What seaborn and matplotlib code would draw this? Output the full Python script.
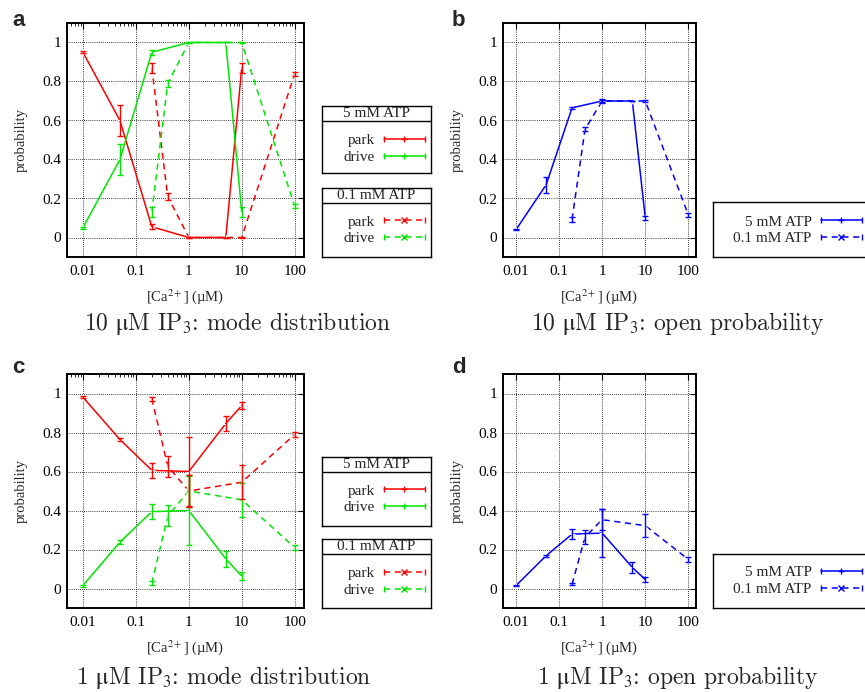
import matplotlib
matplotlib.use("Agg")
import matplotlib.pyplot as plt
from matplotlib.lines import Line2D
from matplotlib.legend_handler import HandlerTuple, HandlerLine2D
from matplotlib.ticker import LogLocator, NullFormatter
import pandas as pd
import seaborn as sns

# Ca2+ concentrations (uM) used for each ATP level
ca_5mM = [0.01, 0.05, 0.2, 1, 5, 10]
ca_01mM = [0.2, 0.4, 1, 10, 100]

# a: 10 uM IP3, mode distribution
a_park_5 = [0.95, 0.60, 0.055, 0.0, 0.0, 0.87]
a_park_5_err = [0.005, 0.08, 0.012, 0.005, 0.0, 0.025]
a_drive_5 = [0.05, 0.40, 0.95, 1.0, 1.0, 0.13]
a_drive_5_err = [0.005, 0.08, 0.012, 0.005, 0.0, 0.025]
a_park_01 = [0.87, 0.21, 0.0, 0.0, 0.84]
a_park_01_err = [0.025, 0.02, 0.005, 0.005, 0.01]
a_drive_01 = [0.13, 0.79, 1.0, 1.0, 0.16]
a_drive_01_err = [0.025, 0.02, 0.005, 0.005, 0.01]

# b: 10 uM IP3, open probability
b_open_5 = [0.04, 0.27, 0.665, 0.70, 0.70, 0.10]
b_open_5_err = [0.003, 0.04, 0.005, 0.005, 0.0, 0.012]
b_open_01 = [0.093, 0.556, 0.70, 0.70, 0.115]
b_open_01_err = [0.012, 0.01, 0.008, 0.005, 0.01]

# c: 1 uM IP3, mode distribution
c_park_5 = [0.981, 0.764, 0.606, 0.60, 0.846, 0.938]
c_park_5_err = [0.005, 0.01, 0.037, 0.175, 0.04, 0.02]
c_drive_5 = [0.015, 0.238, 0.394, 0.40, 0.152, 0.063]
c_drive_5_err = [0.005, 0.01, 0.037, 0.175, 0.04, 0.02]
c_park_01 = [0.973, 0.627, 0.50, 0.545, 0.79]
c_park_01_err = [0.01, 0.055, 0.08, 0.087, 0.015]
c_drive_01 = [0.027, 0.373, 0.50, 0.455, 0.21]
c_drive_01_err = [0.01, 0.055, 0.08, 0.087, 0.015]

# d: 1 uM IP3, open probability
d_open_5 = [0.015, 0.168, 0.279, 0.284, 0.108, 0.046]
d_open_5_err = [0.004, 0.006, 0.025, 0.125, 0.03, 0.012]
d_open_01 = [0.022, 0.264, 0.353, 0.322, 0.149]
d_open_01_err = [0.004, 0.035, 0.055, 0.06, 0.012]

ATP5 = "5 mM ATP"
ATP01 = "0.1 mM ATP"
RED, GREEN, BLUE = "#ff0000", "#00e600", "#0000ff"
mode_colors = {"park": RED, "drive": GREEN}
open_colors = {"open": BLUE}


def frame(series):
    # series: list of (mode, atp, ca, prob, err)
    rows = []
    for mode, atp, ca, prob, err in series:
        for x, y, e in zip(ca, prob, err):
            rows.append({"ca": x, "prob": y, "err": e, "mode": mode, "atp": atp})
    return pd.DataFrame(rows)


df_a = frame([("park", ATP5, ca_5mM, a_park_5, a_park_5_err),
              ("drive", ATP5, ca_5mM, a_drive_5, a_drive_5_err),
              ("park", ATP01, ca_01mM, a_park_01, a_park_01_err),
              ("drive", ATP01, ca_01mM, a_drive_01, a_drive_01_err)])
df_b = frame([("open", ATP5, ca_5mM, b_open_5, b_open_5_err),
              ("open", ATP01, ca_01mM, b_open_01, b_open_01_err)])
df_c = frame([("park", ATP5, ca_5mM, c_park_5, c_park_5_err),
              ("drive", ATP5, ca_5mM, c_drive_5, c_drive_5_err),
              ("park", ATP01, ca_01mM, c_park_01, c_park_01_err),
              ("drive", ATP01, ca_01mM, c_drive_01, c_drive_01_err)])
df_d = frame([("open", ATP5, ca_5mM, d_open_5, d_open_5_err),
              ("open", ATP01, ca_01mM, d_open_01, d_open_01_err)])

sns.set_theme(style="white")
plt.rcParams["font.family"] = ["Liberation Serif", "DejaVu Serif"]
plt.rcParams["mathtext.fontset"] = "stix"

W, H = 865, 692
fig = plt.figure(figsize=(W / 100, H / 100), dpi=100)
DASH = (4, 3)


def px_axes(x0, y0, x1, y1):
    return fig.add_axes([x0 / W, 1 - y1 / H, (x1 - x0) / W, (y1 - y0) / H])


def draw_panel(ax, df, palette):
    sns.lineplot(data=df, x="ca", y="prob", hue="mode", style="atp", palette=palette,
                 dashes={ATP5: "", ATP01: DASH}, markers={ATP5: "+", ATP01: "x"},
                 markersize=4, linewidth=1.1, estimator=None, legend=False, ax=ax)
    for (mode, atp), g in df.groupby(["mode", "atp"]):
        ax.errorbar(g["ca"], g["prob"], yerr=g["err"], fmt="none", ecolor=palette[mode],
                    elinewidth=1.0, capsize=2.5, capthick=1.0)
    ax.set_xscale("log")
    ax.set_xlim(0.005, 150)
    ax.set_ylim(-0.1, 1.1)
    ax.set_xticks([0.01, 0.1, 1, 10, 100])
    ax.set_xticklabels(["0.01", "0.1", "1", "10", "100"])
    ax.xaxis.set_minor_locator(LogLocator(base=10, subs=range(2, 10)))
    ax.xaxis.set_minor_formatter(NullFormatter())
    ax.set_yticks([0, 0.2, 0.4, 0.6, 0.8, 1.0])
    ax.set_yticklabels(["0", "0.2", "0.4", "0.6", "0.8", "1"])
    ax.grid(True, which="major", color="black", linestyle=(0, (1, 1.5)), linewidth=0.6)
    ax.tick_params(which="both", direction="in", top=True, right=True, colors="black",
                   labelsize=11)
    ax.tick_params(which="major", length=4, width=0.8)
    ax.tick_params(which="minor", length=2, width=0.6)
    ax.tick_params(axis="x", pad=6)
    ax.tick_params(axis="y", pad=4)
    for s in ax.spines.values():
        s.set_color("black")
        s.set_linewidth(1.4)
    ax.set_ylabel("probability", fontsize=10.5)
    ax.set_xlabel("[Ca$^{2+}$] (µM)", fontsize=10.5)
    w = ax.get_position().width * W
    h = ax.get_position().height * H
    ax.yaxis.set_label_coords(-46 / w, 0.5)
    ax.xaxis.set_label_coords(0.5, -40 / h)
    ax.xaxis.label.set_va("center")
    ax.yaxis.label.set_va("center")


def make_handle(color, dashed, capmap):
    line = Line2D([], [], color=color, linestyle=(0, DASH) if dashed else "-", linewidth=1.1,
                  marker="x" if dashed else "+", markersize=4)
    caps = Line2D([], [], color=color, linestyle="none", marker="|", markersize=4,
                  markeredgewidth=1.0)
    capmap[caps] = HandlerLine2D(numpoints=2, marker_pad=0.0)
    return (line, caps)


def legend_box(rect, entries, anchor, title=None, header=15):
    x0, y0, x1, y1 = rect
    lax = px_axes(x0, y0, x1, y1)
    lax.set_xticks([])
    lax.set_yticks([])
    lax.set_facecolor("white")
    for s in lax.spines.values():
        s.set_color("black")
        s.set_linewidth(1.0)
    if title:
        hy = 1 - header / (y1 - y0)
        lax.axhline(hy, color="black", linewidth=1.0)
        lax.text(0.5, (1 + hy) / 2, title, ha="center", va="center", fontsize=11,
                 transform=lax.transAxes)
    capmap = {tuple: HandlerTuple(ndivide=1, pad=0)}
    handles = [make_handle(c, d, capmap) for _, c, d in entries]
    labels = [e[0] for e in entries]
    lax.legend(handles, labels, loc="center right", bbox_to_anchor=anchor, frameon=False,
               markerfirst=False, fontsize=11, handlelength=2.7, handletextpad=0.6,
               labelspacing=0.2, borderpad=0, borderaxespad=0, handler_map=capmap)


ax_a = px_axes(67, 23, 304, 257)
ax_b = px_axes(503, 23, 696, 257)
ax_c = px_axes(67, 374, 304, 608)
ax_d = px_axes(503, 374, 696, 608)
draw_panel(ax_a, df_a, mode_colors)
draw_panel(ax_b, df_b, open_colors)
draw_panel(ax_c, df_c, mode_colors)
draw_panel(ax_d, df_d, open_colors)

mode_entries5 = [("park", RED, False), ("drive", GREEN, False)]
mode_entries01 = [("park", RED, True), ("drive", GREEN, True)]
open_entries = [(ATP5, BLUE, False), (ATP01, BLUE, True)]

legend_box((322, 106, 431, 173), mode_entries5, (0.945, 0.36), title=ATP5)
legend_box((322, 188, 431, 257), mode_entries01, (0.945, 0.39), title=ATP01)
legend_box((322, 457, 431, 526), mode_entries5, (0.945, 0.39), title=ATP5)
legend_box((322, 539, 431, 608), mode_entries01, (0.945, 0.38), title=ATP01)
legend_box((713, 202, 872, 257), open_entries, (0.937, 0.49))
legend_box((713, 554, 872, 608), open_entries, (0.937, 0.5))

titles = [(238, 330, "10 $\\mathrm{\\mu}$M IP$_3$: mode distribution"),
          (678, 330, "10 $\\mathrm{\\mu}$M IP$_3$: open probability"),
          (224, 684, "1 $\\mathrm{\\mu}$M IP$_3$: mode distribution"),
          (678, 684, "1 $\\mathrm{\\mu}$M IP$_3$: open probability")]
for x, y, t in titles:
    fig.text(x / W, 1 - y / H, t, ha="center", va="baseline", fontsize=17,
             family="cmr10", math_fontfamily="stix")

for x, y, t in [(12, 26, "a"), (452, 26, "b"), (12, 373, "c"), (452, 373, "d")]:
    fig.text(x / W, 1 - y / H, t, ha="left", va="baseline", fontsize=16,
             fontweight="bold", family="Liberation Sans")

fig.savefig("out.png", dpi=100)
